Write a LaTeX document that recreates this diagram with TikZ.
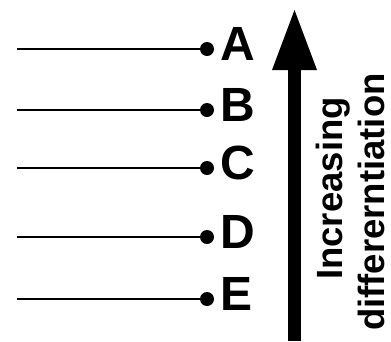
\documentclass[tikz,border=0pt]{standalone}
\usepackage{fontspec}
\setmainfont{Liberation Sans}
\begin{document}
\begin{tikzpicture}[x=1pt,y=-1pt,
  lead/.style={line width=1.8pt},
  enddot/.style={circle,fill=black,inner sep=0pt,minimum size=14pt},
  letter/.style={anchor=base west,inner sep=0pt,font=\fontsize{48}{48}\selectfont\bfseries},
  axislabel/.style={anchor=base west,inner sep=0pt,rotate=90,font=\fontsize{36.5}{36.5}\selectfont\bfseries}]
\useasboundingbox (0,0) rectangle (391,341);
% levels A to E: a line ending in a dot, with its letter
\foreach \name/\yy in {A/49,B/110,C/168,D/237,E/299}{
  \coordinate (s\name) at (17,\yy);
  \node[enddot] (d\name) at (207,\yy) {};
  \node[letter] (l\name) at (220,\yy+11) {\name};
  \draw[lead] (s\name) -- (d\name.center);
}
% thick upward arrow
\coordinate (tail) at (294.5,341);
\coordinate (tip) at (294.5,10);
\fill (288,341) rectangle (301,69);
\fill (272,70) -- (317,70) -- (tip) -- cycle;
% rotated caption
\node[axislabel] (t1) at (342,280) {Increasing};
\node[axislabel] (t2) at (384,331) {differerntiation};
\end{tikzpicture}
\end{document}
